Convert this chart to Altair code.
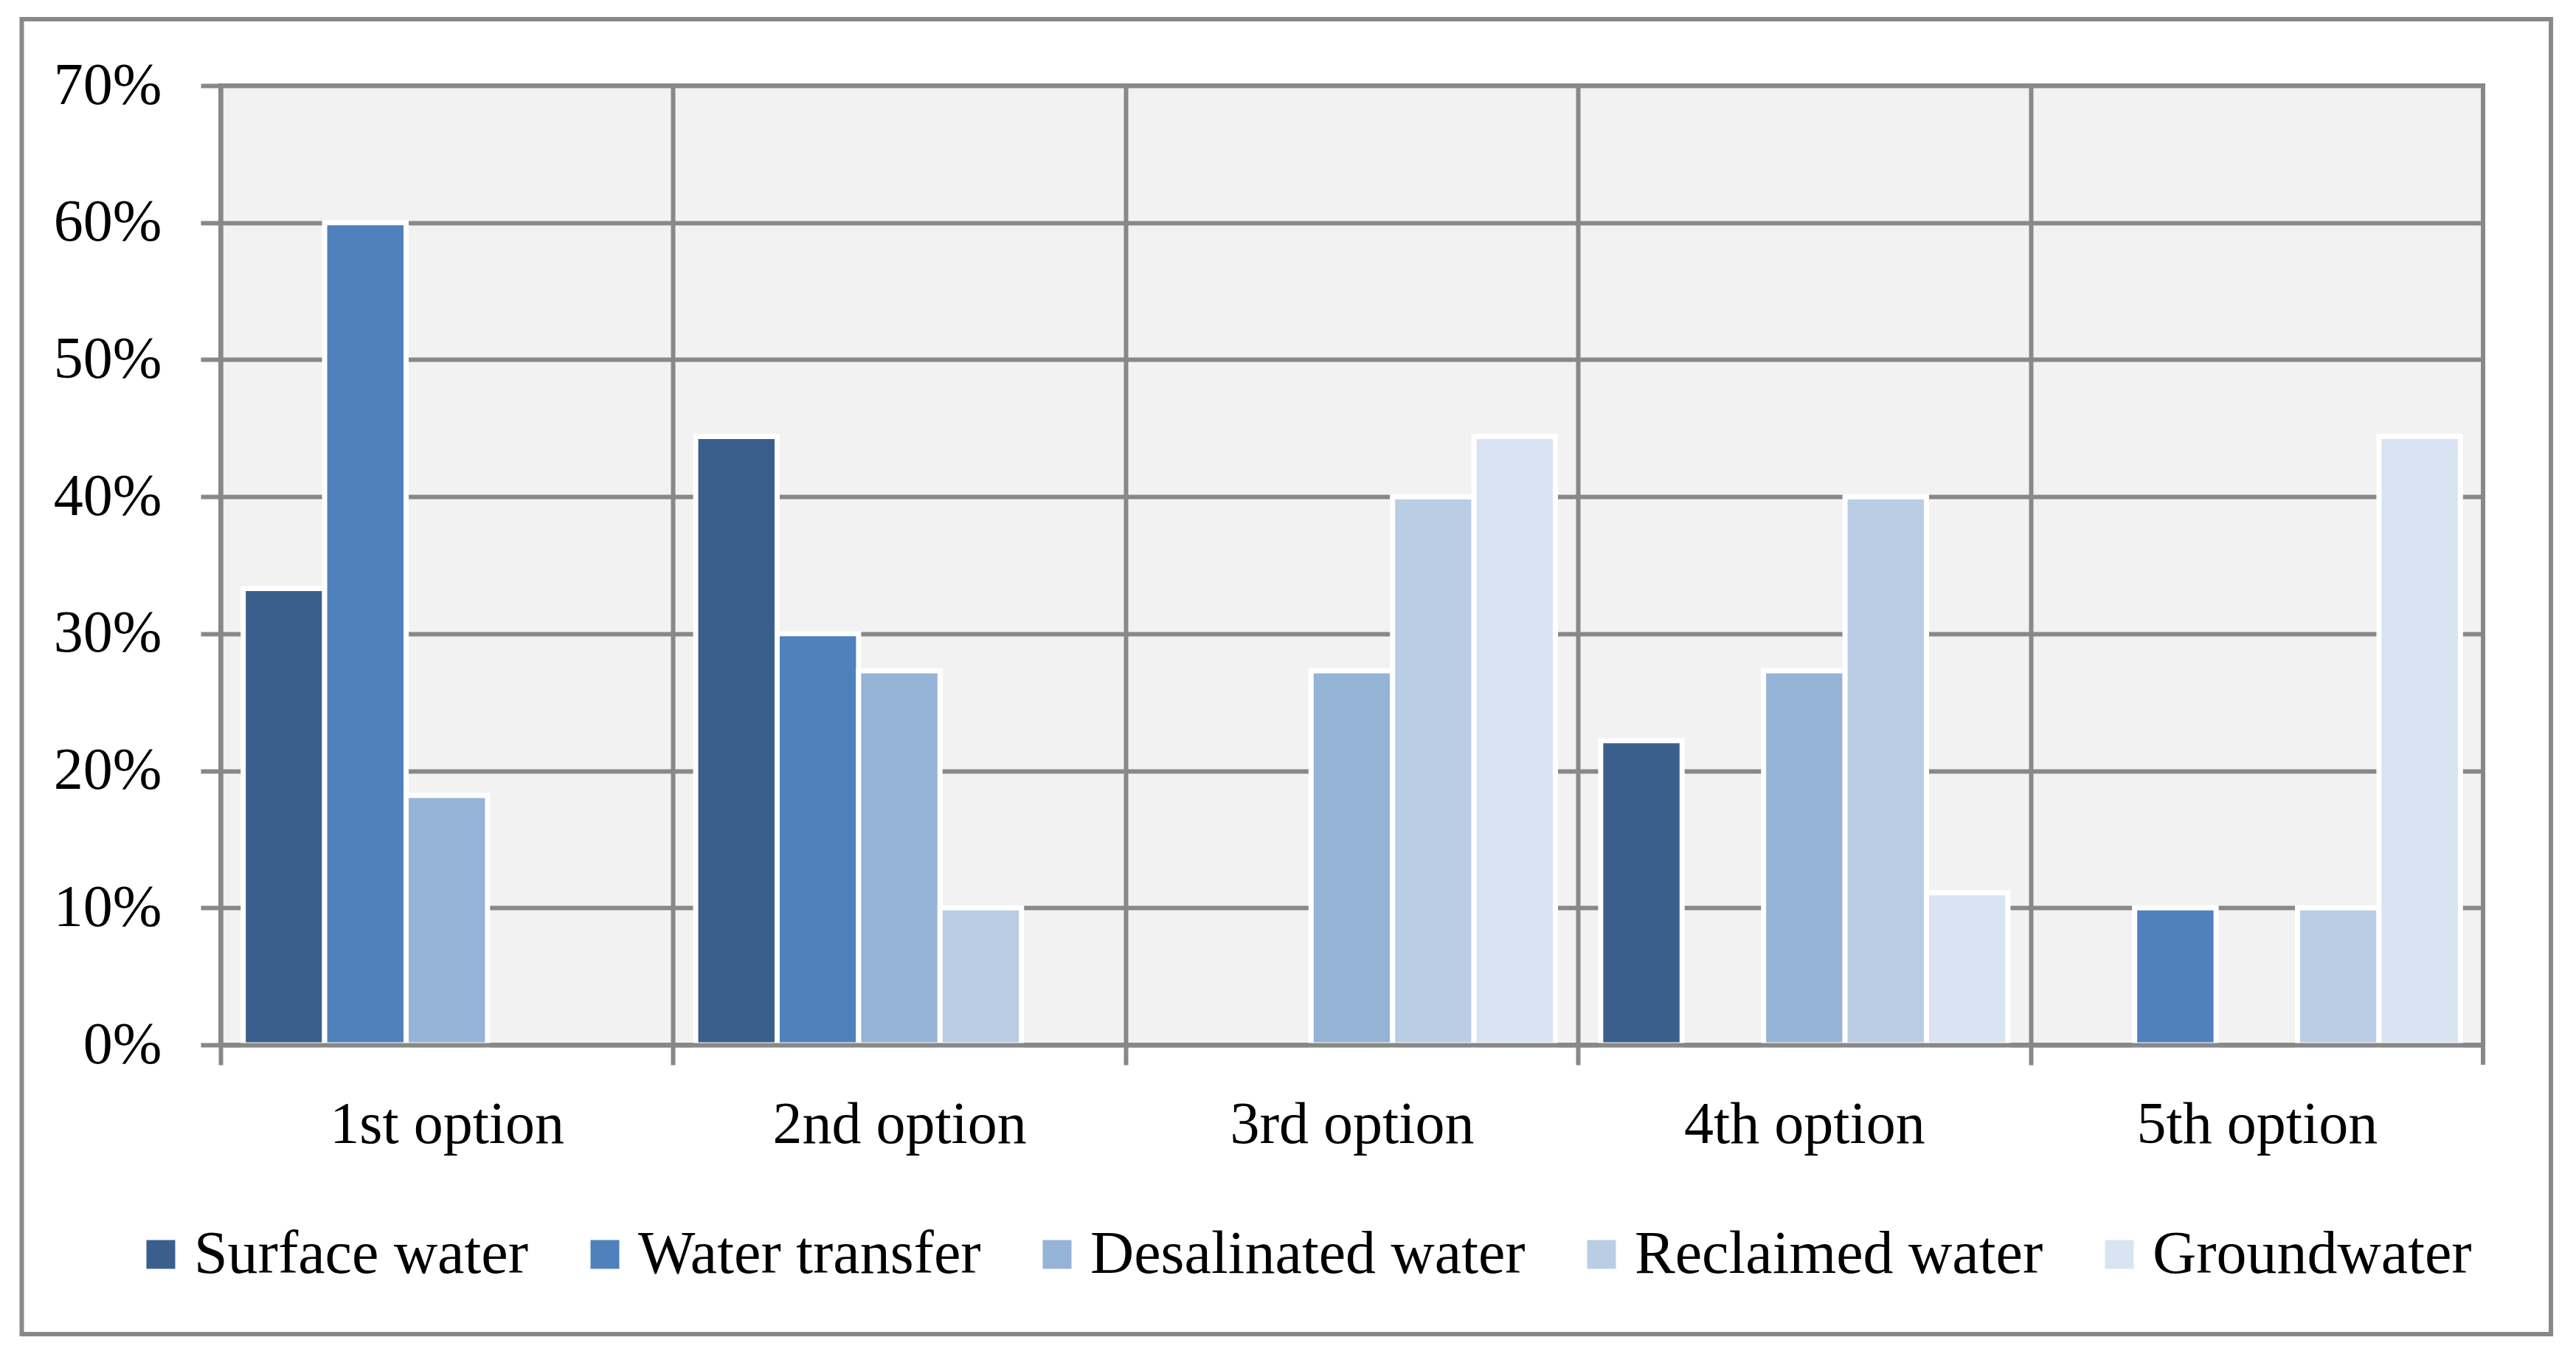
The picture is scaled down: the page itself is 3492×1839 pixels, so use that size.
import altair as alt
import pandas as pd

# ---- data ----
options = ["1st option", "2nd option", "3rd option", "4th option", "5th option"]
series = ["Surface water", "Water transfer", "Desalinated water", "Reclaimed water", "Groundwater"]
surface_water = [0.333, 0.444, 0.0, 0.222, 0.0]
water_transfer = [0.600, 0.300, 0.0, 0.0, 0.100]
desalinated_water = [0.182, 0.273, 0.273, 0.273, 0.0]
reclaimed_water = [0.0, 0.100, 0.400, 0.400, 0.100]
groundwater = [0.0, 0.0, 0.444, 0.111, 0.444]
colors = ["#3B5F8C", "#4F81BD", "#95B3D7", "#B9CDE5", "#D9E4F2"]
y_ticks = [0, 0.1, 0.2, 0.3, 0.4, 0.5, 0.6, 0.7]

values_by_series = [surface_water, water_transfer, desalinated_water, reclaimed_water, groundwater]
rows = []
for s, vals in zip(series, values_by_series):
    for o, v in zip(options, vals):
        rows.append({"option": o, "source": s, "value": v})
df = pd.DataFrame(rows)

# ---- layout ----
W, H = 3067, 1300
STEP = W / 5
GRAY = "#888888"
FONT = "Liberation Serif"
FS = 80

bars = alt.Chart(df).transform_filter(
    alt.datum.value > 0
).mark_bar(stroke="white", strokeWidth=7).encode(
    x=alt.X(
        "option:N",
        sort=options,
        scale=alt.Scale(paddingInner=0.1, paddingOuter=0.05),
        axis=alt.Axis(
            title=None,
            bandPosition=0,
            tickOffset=-0.05 * STEP,
            labelOffset=0.05 * STEP,
            grid=True, gridColor=GRAY, gridWidth=6, gridOpacity=1,
            domain=True, domainColor=GRAY, domainWidth=6,
            ticks=True, tickColor=GRAY, tickWidth=6, tickSize=27,
            labelFont=FONT, labelFontSize=FS, labelColor="black",
            labelBaseline="alphabetic", labelPadding=105, labelAngle=0,
            labelLimit=2000,
            zindex=1,
        ),
    ),
    xOffset=alt.XOffset(
        "source:N", sort=series,
        scale=alt.Scale(domain=series, paddingInner=0, paddingOuter=0),
    ),
    y=alt.Y(
        "value:Q",
        scale=alt.Scale(domain=[0, 0.7], nice=False),
        axis=alt.Axis(
            title=None, values=y_ticks, format=".0%",
            grid=True, gridColor=GRAY, gridWidth=6, gridOpacity=1,
            domain=True, domainColor=GRAY, domainWidth=6,
            ticks=True, tickColor=GRAY, tickWidth=6, tickSize=27,
            labelFont=FONT, labelFontSize=FS, labelColor="black",
            labelPadding=53, labelBaseline="middle",
        ),
    ),
    color=alt.Color(
        "source:N",
        scale=alt.Scale(domain=series, range=colors),
        legend=alt.Legend(
            title=None, orient="none", direction="horizontal", columns=5,
            legendX=-122, legendY=1543,
            symbolType="square", symbolSize=1521, symbolStrokeWidth=0,
            labelFont=FONT, labelFontSize=82, labelColor="black",
            labelOffset=4, columnPadding=62, labelLimit=2000, padding=0,
        ),
    ),
)

# extra boundary tick at the right end of the category axis
end_tick = alt.Chart(alt.Data(values=[{}])).mark_rule(
    color=GRAY, strokeWidth=6
).encode(x=alt.value(W), y=alt.value(H), y2=alt.value(H + 27))

# outer chart frame
frame = alt.Chart(alt.Data(values=[{}])).mark_rect(
    fillOpacity=0, stroke=GRAY, strokeWidth=6
).encode(
    x=alt.value(-269.5), x2=alt.value(W + 92),
    y=alt.value(-90), y2=alt.value(H + 392),
)

chart = alt.layer(bars, end_tick, frame).properties(
    width=W, height=H,
    autosize=alt.AutoSizeParams(type="none"),
    padding={"left": 291, "top": 108, "right": 110, "bottom": 400},
    background="white",
).configure_view(
    fill="#F2F2F2", stroke=GRAY, strokeWidth=6,
)

chart.save("out.html", embed_options={"renderer": "svg", "actions": False})
